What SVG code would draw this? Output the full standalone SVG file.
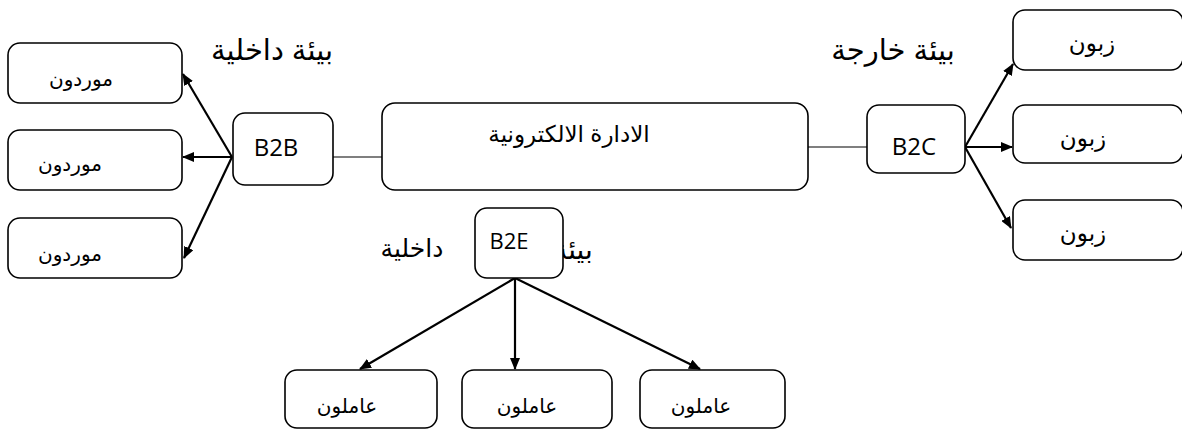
<svg xmlns="http://www.w3.org/2000/svg" width="1182" height="430" viewBox="0 0 1182 430">
<style>
.box{fill:#fff;stroke:#000;stroke-width:1.6}
.ar{font-family:"Liberation Sans","DejaVu Sans",sans-serif;font-size:20px;fill:#000;text-anchor:middle}
.hd{font-family:"Liberation Sans","DejaVu Sans",sans-serif;font-size:29px;fill:#000;text-anchor:middle}
.en{font-family:"Open Sans","Liberation Sans",sans-serif;font-size:24px;fill:#000;text-anchor:middle}
.ln{stroke:#000;stroke-width:1.2;fill:none}
.arw{stroke:#000;stroke-width:2.2;fill:none;marker-end:url(#ah)}
</style>
<defs>
<marker id="ah" viewBox="0 0 12 10" refX="11" refY="5" markerWidth="12" markerHeight="10" markerUnits="userSpaceOnUse" orient="auto">
<path d="M0,0 L12,5 L0,10 z" fill="#000"/>
</marker>
</defs>
<rect width="1182" height="430" fill="#fff"/>
<text class="hd" x="272" y="60">بيئة داخلية</text>
<text class="hd" x="893" y="60">بيئة خارجة</text>
<text class="hd" x="412" y="257" style="font-size:25px">داخلية</text>
<text class="hd" x="573" y="259" style="font-size:28px">بيئة</text>
<g id="connectors">
<line class="ln" x1="333" y1="157" x2="382" y2="157"/>
<line class="ln" x1="808" y1="147" x2="867" y2="147"/>
<line class="arw" x1="232" y1="157" x2="183" y2="74"/>
<line class="arw" x1="232" y1="157" x2="183" y2="157"/>
<line class="arw" x1="232" y1="157" x2="184" y2="258"/>
<line class="arw" x1="965" y1="147" x2="1013" y2="64"/>
<line class="arw" x1="965" y1="147" x2="1012" y2="147"/>
<line class="arw" x1="965" y1="147" x2="1011" y2="228"/>
<line class="arw" x1="515" y1="278" x2="360" y2="369"/>
<line class="arw" x1="515" y1="278" x2="515" y2="369"/>
<line class="arw" x1="515" y1="278" x2="700" y2="369"/>
</g>
<g id="main"><rect class="box" x="382" y="103" width="426" height="87" rx="13"/><text class="ar" x="569" y="142" style="font-size:23px">الادارة الالكترونية</text></g>
<g id="b2b"><rect class="box" x="233" y="113" width="100" height="72" rx="12"/><text class="en" x="276" y="156">B2B</text></g>
<g id="b2c"><rect class="box" x="867" y="105" width="98" height="68" rx="12"/><text class="en" x="914" y="155">B2C</text></g>
<g id="b2e"><rect class="box" x="475" y="208" width="88" height="70" rx="12"/><text class="en" x="509" y="249" style="font-size:22px">B2E</text></g>
<g id="s1"><rect class="box" x="8" y="43" width="174" height="60" rx="12"/><text class="ar" x="81" y="86">موردون</text></g>
<g id="s2"><rect class="box" x="8" y="130" width="174" height="60" rx="12"/><text class="ar" x="70" y="171">موردون</text></g>
<g id="s3"><rect class="box" x="8" y="218" width="174" height="60" rx="12"/><text class="ar" x="70" y="261">موردون</text></g>
<g id="c1"><rect class="box" x="1013" y="10" width="170" height="60" rx="12"/><text class="ar" x="1092" y="51" style="font-size:23px">زبون</text></g>
<g id="c2"><rect class="box" x="1013" y="105" width="170" height="58" rx="12"/><text class="ar" x="1083" y="146" style="font-size:23px">زبون</text></g>
<g id="c3"><rect class="box" x="1013" y="200" width="170" height="60" rx="12"/><text class="ar" x="1083" y="241" style="font-size:23px">زبون</text></g>
<g id="e1"><rect class="box" x="285" y="370" width="152" height="58" rx="12"/><text class="ar" x="347" y="413">عاملون</text></g>
<g id="e2"><rect class="box" x="462" y="370" width="150" height="58" rx="12"/><text class="ar" x="527" y="413">عاملون</text></g>
<g id="e3"><rect class="box" x="640" y="370" width="145" height="58" rx="12"/><text class="ar" x="701" y="413">عاملون</text></g>
</svg>
